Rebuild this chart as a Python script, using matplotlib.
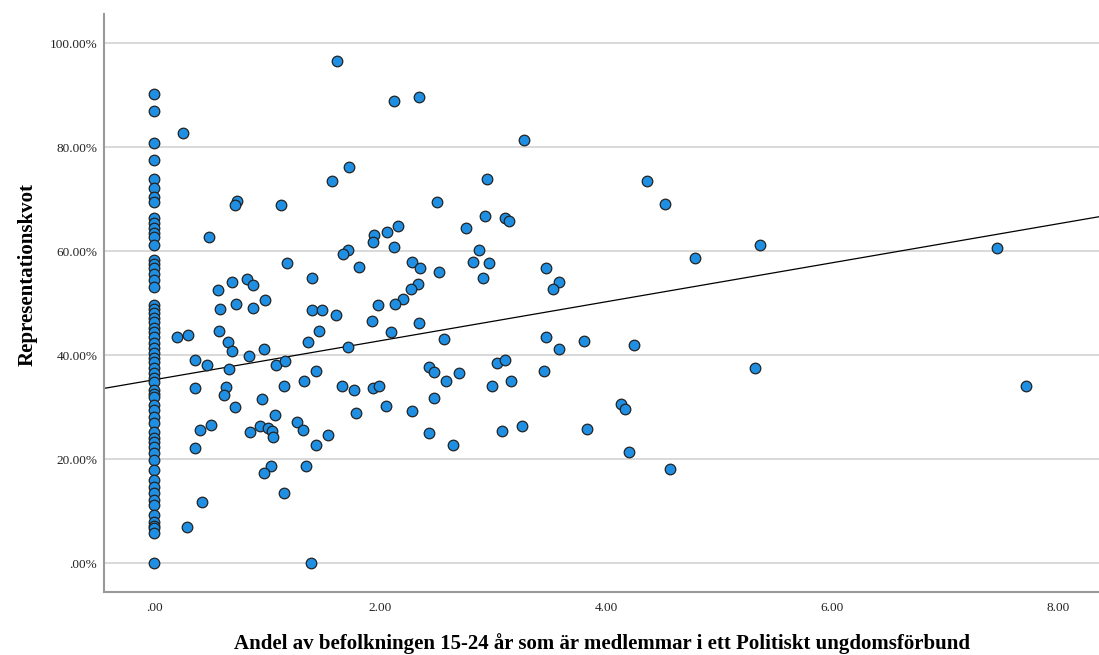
import numpy as np
import matplotlib
matplotlib.use("Agg")
import matplotlib.pyplot as plt
from matplotlib.ticker import FuncFormatter

# x = 0 column (share in youth party = 0), y in percent
zero_y = [90.2, 86.9, 80.8, 77.5, 73.8, 72.1, 70.4, 69.4, 66.3, 65.5, 64.4, 63.5,
          62.7, 61.2, 58.3, 57.5, 56.7, 55.5, 54.4, 53.1, 49.6, 48.8, 48.1, 47.2,
          46.3, 45.2, 44.4, 43.5, 42.3, 41.3, 40.4, 39.5, 38.7, 37.6, 36.5, 35.6,
          34.8, 33.3, 32.6, 31.9, 30.4, 29.4, 28.1, 26.9, 25.2, 24.0, 23.2, 22.3,
          21.2, 19.8, 17.9, 16.0, 14.6, 13.5, 12.1, 11.2, 9.2, 7.9, 7.2, 6.7, 5.8, 0.0]

# the rest of the municipalities: (andel, kvot %)
other_x = [1.617, 0.259, 1.726, 1.578, 0.737, 0.719, 1.124, 0.489, 1.947, 1.941,
           1.714, 1.670, 1.177, 1.812, 1.396, 0.569, 0.690, 0.826, 0.876, 0.726,
           0.980, 0.584, 0.873, 1.396, 1.484, 1.985,
           1.608, 1.932, 0.206, 0.298, 0.573, 0.655, 0.688, 0.838, 0.976, 1.363,
           1.460, 1.719, 0.363, 0.469, 0.666, 1.077, 1.157, 1.436, 0.363, 0.635,
           0.617, 1.148, 1.325, 1.664, 1.770, 1.935, 1.994, 0.956, 0.717, 1.068,
           1.785, 0.507, 0.404, 0.850, 0.941, 1.012, 1.047, 1.050, 1.263, 1.321,
           1.542, 1.436, 0.363, 1.033, 0.971, 1.348, 1.150, 0.427, 0.295, 1.389,
           2.127, 2.345, 3.272, 2.944, 2.504, 2.929, 3.106, 3.144, 2.761, 2.062,
           2.157, 2.127, 2.873, 2.286, 2.354, 2.522, 2.820, 2.965, 2.914, 3.469,
           3.584, 3.531, 2.339, 2.272, 2.201, 2.133,
           2.342, 2.095, 2.564, 3.472, 3.584, 3.803, 2.434, 2.475, 2.587, 2.702,
           3.038, 3.109, 3.157, 2.988, 3.454, 2.050, 2.286, 2.478, 2.436, 2.643,
           3.077, 3.257, 3.829,
           4.365, 4.525, 5.363, 4.785, 4.248, 5.319, 4.135, 4.171, 4.204, 4.566,
           7.457, 7.714]
other_y = [96.5, 82.75, 76.2, 73.5, 69.7, 68.8, 68.8, 62.75, 63.1, 61.8,
           60.3, 59.4, 57.75, 57.0, 54.9, 52.6, 54.0, 54.7, 53.5, 49.9,
           50.5, 48.8, 49.0, 48.65, 48.65, 49.6,
           47.8, 46.6, 43.5, 43.8, 44.7, 42.6, 40.8, 39.9, 41.2, 42.6,
           44.6, 41.6, 39.0, 38.0, 37.4, 38.0, 38.8, 37.0, 33.7, 33.9,
           32.3, 34.1, 35.0, 34.0, 33.3, 33.6, 34.0, 31.6, 30.0, 28.4,
           28.8, 26.6, 25.6, 25.2, 26.4, 26.0, 25.4, 24.3, 27.2, 25.6,
           24.7, 22.75, 22.1, 18.65, 17.4, 18.7, 13.5, 11.8, 7.0, 0.0,
           88.8, 89.7, 81.35, 73.9, 69.4, 66.8, 66.4, 65.8, 64.4, 63.6,
           64.8, 60.7, 60.2, 57.9, 56.8, 56.0, 57.9, 57.8, 54.9, 56.7,
           54.0, 52.7, 53.65, 52.7, 50.8, 49.9,
           46.15, 44.4, 43.0, 43.5, 41.2, 42.75, 37.8, 36.7, 35.1, 36.6,
           38.4, 39.0, 35.1, 34.0, 36.9, 30.2, 29.2, 31.7, 25.1, 22.75,
           25.4, 26.3, 25.8,
           73.4, 69.0, 61.1, 58.65, 41.9, 37.5, 30.5, 29.6, 21.4, 18.0,
           60.6, 34.0]

# linear fit (fraction units)
fit_intercept = 0.3525
fit_slope = 0.0375

x = np.array([0.0] * len(zero_y) + other_x)
y = np.array(zero_y + other_y) / 100.0

plt.rcParams['font.family'] = ['Liberation Serif', 'DejaVu Serif']

fig = plt.figure(figsize=(10.99, 6.55), dpi=100)
ax = fig.add_axes([0.0949, 0.0957, 0.9051, 0.8829])

xlim = (-0.44, 8.363)
ax.set_xlim(xlim)
ax.set_ylim(-0.0563, 1.056)

# horizontal gridlines
ax.set_yticks([0, 0.2, 0.4, 0.6, 0.8, 1.0])
ax.set_xticks([0, 2, 4, 6, 8])
ax.grid(axis='y', color='#d3d3d3', linewidth=1.2, zorder=0)
ax.set_axisbelow(True)

# fit line
lx = np.array(xlim)
ax.plot(lx, fit_intercept + fit_slope * lx, color='black', linewidth=0.9, zorder=2)

ax.scatter(x, y, s=58, color='#1f8fe3', edgecolor='#222222', linewidth=0.9, zorder=3)

def y_fmt(v, pos):
    s = "%.2f%%" % (v * 100)
    return s[1:] if s.startswith("0") else s

def x_fmt(v, pos):
    s = "%.2f" % v
    return s[1:] if s.startswith("0") else s

ax.yaxis.set_major_formatter(FuncFormatter(y_fmt))
ax.xaxis.set_major_formatter(FuncFormatter(x_fmt))
ax.tick_params(axis='both', length=0, labelsize=9.5, colors='#222222')
ax.tick_params(axis='y', pad=5)
ax.tick_params(axis='x', pad=7)

for side in ['top', 'right']:
    ax.spines[side].set_visible(False)
for side in ['left', 'bottom']:
    ax.spines[side].set_color('#999999')
    ax.spines[side].set_linewidth(1.5)

ax.set_ylabel('Representationskvot', fontsize=15, fontweight='bold')
ax.yaxis.set_label_coords(-0.0767, 0.55)
ax.set_xlabel('Andel av befolkningen 15-24 år som är medlemmar i ett Politiskt ungdomsförbund',
              fontsize=15, fontweight='bold')
ax.xaxis.set_label_coords(0.5, -0.0894)
ax.xaxis.label.set_va('center')
ax.yaxis.label.set_va('center')

fig.savefig('out.png', dpi=100)
